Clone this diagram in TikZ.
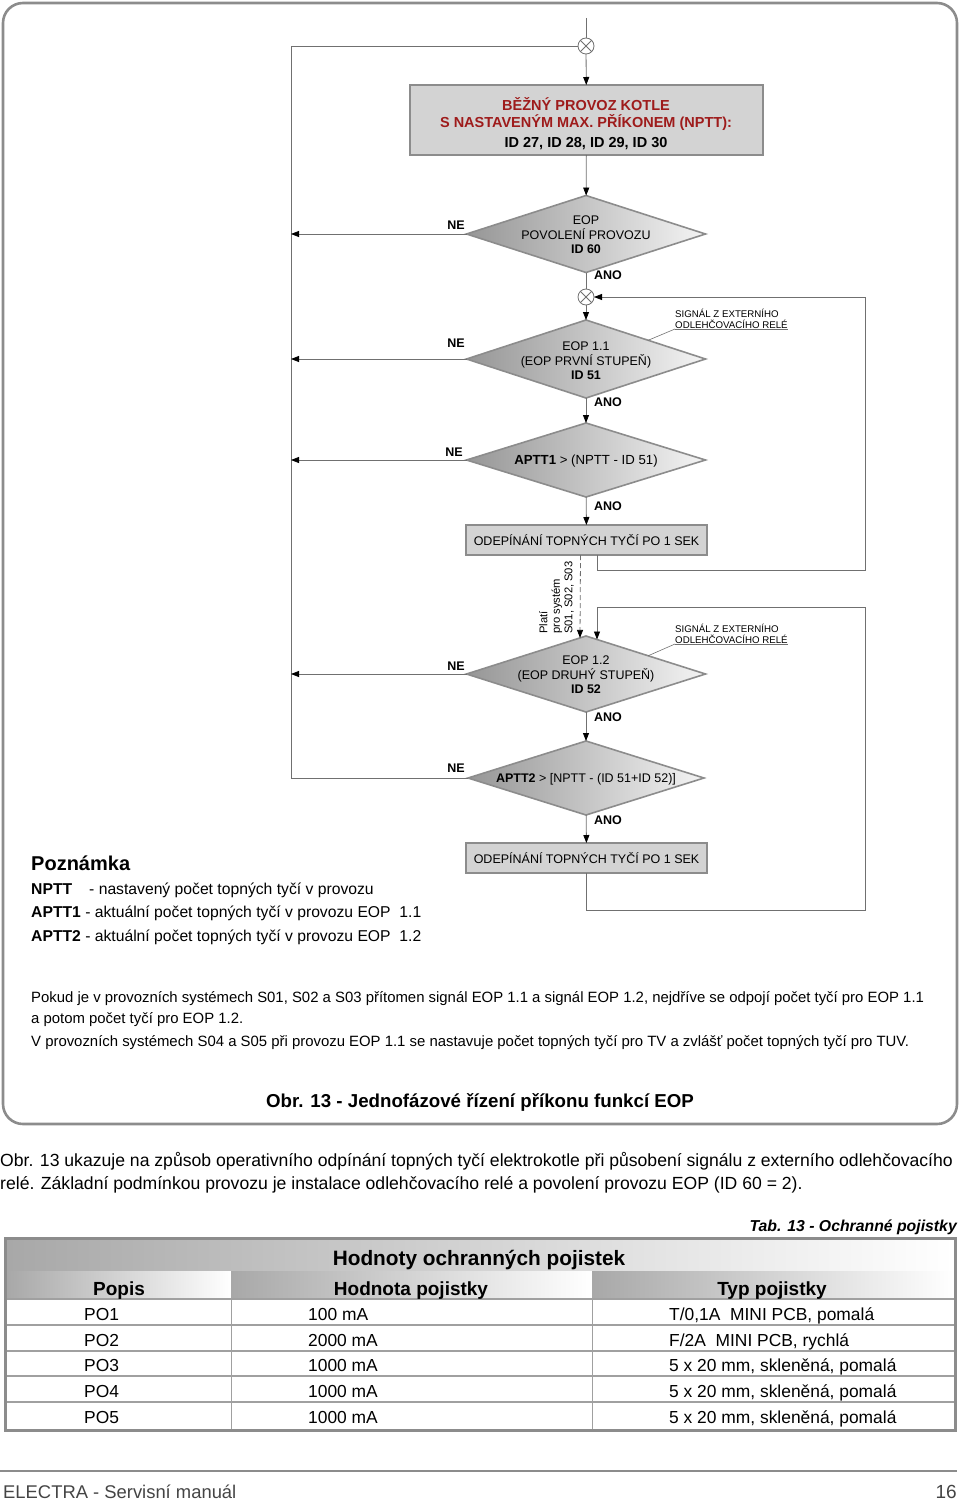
\documentclass[tikz,border=0pt]{standalone}
\usepackage{fontspec}
\setmainfont{Liberation Sans}
\usetikzlibrary{arrows.meta,shapes.geometric,calc}
\definecolor{framegray}{HTML}{8C8C8C}
\definecolor{linegray}{HTML}{707070}
\definecolor{boxfill}{HTML}{D3D3D3}
\definecolor{darkred}{HTML}{9E1B1B}
\definecolor{dmdark}{HTML}{969696}
\definecolor{dmlight}{HTML}{F4F4F4}
\definecolor{hdark}{HTML}{A8A8A8}
\definecolor{rowline}{HTML}{A0A0A0}
\definecolor{foot}{HTML}{444444}
\begin{document}
\begin{tikzpicture}[x=1pt,y=-1pt,
  conn/.style={draw=linegray,line width=0.8pt},
  arr/.style={conn,-{Triangle[length=8pt,width=6pt,color=black]}},
  xcirc/.style={circle,draw=linegray,line width=0.8pt,fill=white,minimum size=16pt,inner sep=0pt,outer sep=0pt,
    path picture={\draw[linegray,line width=0.8pt](path picture bounding box.north west)--(path picture bounding box.south east)(path picture bounding box.north east)--(path picture bounding box.south west);}},
  dia/.style={diamond,draw=framegray,line width=1.6pt,left color=dmdark,right color=dmlight,inner sep=0pt,outer sep=0pt},
  pbox/.style={rectangle,draw=framegray,line width=2.4pt,fill=boxfill,inner sep=0pt,outer sep=0pt},
  dtext/.style={inner sep=0pt,align=center,font=\fontsize{12.5}{14.5}\selectfont},
  lab/.style={inner sep=0pt,font=\fontsize{12.5}{14.5}\selectfont\bfseries},
  sig/.style={inner sep=0pt,align=left,font=\fontsize{9.7}{11}\selectfont},
  txt/.style={inner sep=0pt,anchor=base west},
  hcell/.style={draw=none,left color=hdark,right color=white},
]
\useasboundingbox (0,0) rectangle (960,1501);
% outer frame
\draw[framegray,line width=2.6pt,rounded corners=20pt] (3,3) rectangle (957,1124);

% ---- flowchart nodes
\coordinate (top) at (586,18);
\node[xcirc] (c1) at (586,46) {};
\node[pbox,minimum width=353pt,minimum height=70pt] (box1) at (586.5,120) {};
\node[inner sep=0pt,align=center,font=\fontsize{14.5}{17}\selectfont\bfseries] (box1t) at (586,124)
  {\textcolor{darkred}{BĚŽNÝ PROVOZ KOTLE}\\\textcolor{darkred}{S NASTAVENÝM MAX. PŘÍKONEM (NPTT):}\\[3pt]ID 27, ID 28, ID 29, ID 30};

\node[dia,minimum width=239pt,minimum height=77pt] (d1) at (586,234) {};
\node[dtext] (d1t) at (586,235) {EOP\\POVOLENÍ PROVOZU\\\textbf{ID 60}};

\node[xcirc] (c2) at (586,297) {};

\node[dia,minimum width=239pt,minimum height=78pt] (d2) at (586,359) {};
\node[dtext] (d2t) at (586,361) {EOP 1.1\\(EOP PRVNÍ STUPEŇ)\\\textbf{ID 51}};

\node[dia,minimum width=239pt,minimum height=74pt] (d3) at (586,460) {};
\node[dtext,font=\fontsize{13.2}{15}\selectfont] (d3t) at (586,461) {\textbf{APTT1} > (NPTT - ID 51)};

\node[pbox,minimum width=241pt,minimum height=30pt,font=\fontsize{12.5}{14}\selectfont] (b2) at (586.5,540) {ODEPÍNÁNÍ TOPNÝCH TYČÍ PO 1 SEK};

\node[dia,minimum width=239pt,minimum height=76pt] (d4) at (586,674) {};
\node[dtext] (d4t) at (586,675) {EOP 1.2\\(EOP DRUHÝ STUPEŇ)\\\textbf{ID 52}};

\node[dia,minimum width=236pt,minimum height=74pt] (d5) at (586,778) {};
\node[dtext] (d5t) at (586,779) {\textbf{APTT2} > [NPTT - (ID 51+ID 52)]};

\node[pbox,minimum width=241pt,minimum height=30pt,font=\fontsize{12.5}{14}\selectfont] (b3) at (586.5,858) {ODEPÍNÁNÍ TOPNÝCH TYČÍ PO 1 SEK};

% labels
\node[lab] (ne1) at (456,225) {NE};
\node[lab] (ne2) at (456,343) {NE};
\node[lab] (ne3) at (454,452) {NE};
\node[lab] (ne4) at (456,666) {NE};
\node[lab] (ne5) at (456,768) {NE};
\node[lab] (ano1) at (608,275) {ANO};
\node[lab] (ano2) at (608,402) {ANO};
\node[lab] (ano3) at (608,506) {ANO};
\node[lab] (ano4) at (608,717) {ANO};
\node[lab] (ano5) at (608,820) {ANO};

% signal labels
\node[sig,anchor=south west] (s1) at (675,329) {SIGNÁL Z EXTERNÍHO\\ODLEHČOVACÍHO RELÉ};
\draw[conn,line width=0.6pt] (s1.south west) -- (s1.south east);
\draw[conn,line width=0.6pt] (s1.south west) -- ($(d2.north)!0.52!(d2.east)$);
\node[sig,anchor=south west] (s2) at (675,644) {SIGNÁL Z EXTERNÍHO\\ODLEHČOVACÍHO RELÉ};
\draw[conn,line width=0.6pt] (s2.south west) -- (s2.south east);
\draw[conn,line width=0.6pt] (s2.south west) -- ($(d4.north)!0.52!(d4.east)$);

% rotated note
\node[rotate=90,anchor=north west,inner sep=0pt,align=left,font=\fontsize{11.2}{12.5}\selectfont] (plati) at (539,634)
  {Platí\\pro systém\\S01, S02, S03};

% ---- connectors
\coordinate (L0) at (291,46);
\coordinate (r1) at (865,570);
\coordinate (r2) at (865,910);
\draw[conn] (top) -- (c1);
\draw[conn] (c1.west) -- (L0) -- (L0 |- d5.west) -- (d5.west);
\draw[arr] (c1) -- (box1);
\draw[arr] (box1) -- (d1);
\draw[arr] (d1.west) -- (d1.west -| L0);
\draw[conn] (d1) -- (c2);
\draw[arr] (c2) -- (d2);
\draw[arr] (d2.west) -- (d2.west -| L0);
\draw[arr] (d2) -- (d3);
\draw[arr] (d3.west) -- (d3.west -| L0);
\draw[arr] (d3) -- (b2);
\draw[arr] ($(b2.south)+(11,0)$) |- (r1) |- (c2.east);
\draw[arr,dash pattern=on 5pt off 3pt] ($(b2.south)+(-6,0)$) -- ($(d4.north)+(-6,1.9)$);
\draw[arr] (b3.south) |- (r2) |- ($(d4.north)+(11,-29)$) -- ($(d4.north)+(11,3.5)$);
\draw[arr] (d4.west) -- (d4.west -| L0);
\draw[arr] (d4) -- (d5);
\draw[arr] (d5) -- (b3);

% ---- note
\node[txt,font=\fontsize{20}{24}\selectfont\bfseries] (poz) at (31,870) {Poznámka};
\node[txt,font=\fontsize{15.7}{18}\selectfont] (n1) at (31,894) {\makebox[58pt][l]{\textbf{NPTT}}- nastavený počet topných tyčí v provozu};
\node[txt,font=\fontsize{15.7}{18}\selectfont] (n2) at (31,917) {\textbf{APTT1} - aktuální počet topných tyčí v provozu EOP\ \ 1.1};
\node[txt,font=\fontsize{15.7}{18}\selectfont] (n3) at (31,941) {\textbf{APTT2} - aktuální počet topných tyčí v provozu EOP\ \ 1.2};

\node[txt,font=\fontsize{14.9}{17}\selectfont] (p1) at (31,1002) {Pokud je v provozních systémech S01, S02 a S03 přítomen signál EOP 1.1 a signál EOP 1.2, nejdříve se odpojí počet tyčí pro EOP 1.1};
\node[txt,font=\fontsize{14.9}{17}\selectfont] (p2) at (31,1023) {a potom počet tyčí pro EOP 1.2.};
\node[txt,font=\fontsize{14.9}{17}\selectfont] (p3) at (31,1046) {V provozních systémech S04 a S05 při provozu EOP 1.1 se nastavuje počet topných tyčí pro TV a zvlášť počet topných tyčí pro TUV.};

\node[inner sep=0pt,anchor=base,font=\fontsize{18.7}{22}\selectfont\bfseries] (cap) at (480,1107) {Obr. 13 - Jednofázové řízení příkonu funkcí EOP};

\node[txt,font=\fontsize{17.6}{20}\selectfont] (q1) at (0,1166) {Obr. 13 ukazuje na způsob operativního odpínání topných tyčí elektrokotle při působení signálu z externího odlehčovacího};
\node[txt,font=\fontsize{17.6}{20}\selectfont] (q2) at (0,1189) {relé. Základní podmínkou provozu je instalace odlehčovacího relé a povolení provozu EOP (ID 60 = 2).};

\node[inner sep=0pt,anchor=base east,font=\fontsize{15.8}{18}\selectfont\bfseries\itshape] (tab) at (957,1231) {Tab. 13 - Ochranné pojistky};

% ---- table
\shade[hcell] (7,1240) rectangle (954,1270);
\shade[hcell] (7,1271) rectangle (231,1299);
\shade[hcell] (231,1271) rectangle (592,1299);
\shade[hcell] (592,1271) rectangle (954,1299);
\foreach \yy in {1299,1325,1351,1376,1402}
  \draw[rowline,line width=1.4pt] (7,\yy) -- (954,\yy);
\draw[rowline,line width=0.8pt] (231,1299) -- (231,1429);
\draw[rowline,line width=0.8pt] (592,1299) -- (592,1429);
\draw[framegray,line width=3pt] (5,1238.5) rectangle (955.5,1430.5);

\node[inner sep=0pt,anchor=base,font=\fontsize{20.8}{24}\selectfont\bfseries] (th) at (479,1265) {Hodnoty ochranných pojistek};
\node[inner sep=0pt,anchor=base,font=\fontsize{19}{22}\selectfont\bfseries] (th1) at (119,1295) {Popis};
\node[inner sep=0pt,anchor=base,font=\fontsize{19}{22}\selectfont\bfseries] (th2) at (411,1295) {Hodnota pojistky};
\node[inner sep=0pt,anchor=base,font=\fontsize{19}{22}\selectfont\bfseries] (th3) at (772,1295) {Typ pojistky};
\foreach \n/\yy/\a/\b/\c in {1/1320/PO1/100 mA/{T/0,1A\ \ MINI PCB, pomalá},
  2/1346/PO2/2000 mA/{F/2A\ \ MINI PCB, rychlá},
  3/1371/PO3/1000 mA/{5 x 20 mm, skleněná, pomalá},
  4/1397/PO4/1000 mA/{5 x 20 mm, skleněná, pomalá},
  5/1423/PO5/1000 mA/{5 x 20 mm, skleněná, pomalá}}{
  \node[txt,font=\fontsize{17.4}{19}\selectfont] (ra\n) at (84,\yy) {\a};
  \node[txt,font=\fontsize{17.4}{19}\selectfont] (rb\n) at (308,\yy) {\b};
  \node[txt,font=\fontsize{17.4}{19}\selectfont] (rc\n) at (669,\yy) {\c};
}

% ---- footer
\draw[framegray,line width=2pt] (0,1471) -- (957,1471);
\node[txt,text=foot,font=\fontsize{18.4}{22}\selectfont] (f1) at (3,1498) {ELECTRA - Servisní manuál};
\node[inner sep=0pt,anchor=base east,text=foot,font=\fontsize{19}{22}\selectfont] (f2) at (957,1498) {16};
\end{tikzpicture}
\end{document}
